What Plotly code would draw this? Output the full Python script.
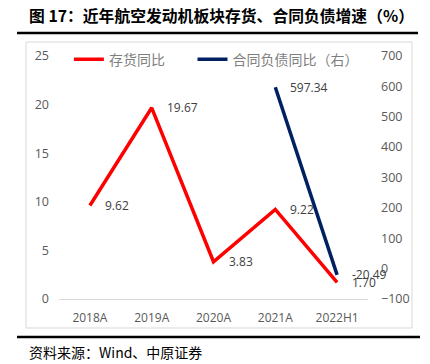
import plotly.graph_objects as go

categories = ["2018A", "2019A", "2020A", "2021A", "2022H1"]
inventory_yoy = [9.62, 19.67, 3.83, 9.22, 1.70]
contract_liab_yoy = [None, None, None, 597.34, -20.49]
left_ticks = [0, 5, 10, 15, 20, 25]
right_ticks = [-100, 0, 100, 200, 300, 400, 500, 600, 700]

NUM_FONT = "Open Sans"
CJK_FONT = "Noto Sans CJK SC"
GRAY = "#595959"

fig = go.Figure()
fig.add_trace(go.Scatter(
    x=categories, y=inventory_yoy, name="存货同比", mode="lines",
    line=dict(color="#FF0000", width=3.5), yaxis="y", legend="legend"))
fig.add_trace(go.Scatter(
    x=categories, y=contract_liab_yoy, name="合同负债同比（右）", mode="lines",
    line=dict(color="#002060", width=3.5), yaxis="y2", legend="legend2"))

annotations = []
for c, v in zip(categories, inventory_yoy):
    annotations.append(dict(x=c, y=v, xref="x", yref="y", text=f"{v:.2f}",
                            showarrow=False, xanchor="left", xshift=13,
                            font=dict(family=NUM_FONT, size=12, color="#404040")))
for c, v in zip(categories, contract_liab_yoy):
    if v is None:
        continue
    annotations.append(dict(x=c, y=v, xref="x", yref="y2", text=f"{v:.2f}",
                            showarrow=False, xanchor="left", xshift=13,
                            font=dict(family=NUM_FONT, size=12, color="#404040")))

annotations.append(dict(
    x=-0.103, y=1.165, xref="paper", yref="paper", xanchor="left", yanchor="middle",
    text="<b>图 17：近年航空发动机板块存货、合同负债增速（%）</b>", showarrow=False,
    font=dict(family=CJK_FONT, size=15.8, color="#000000")))
annotations.append(dict(
    x=-0.103, y=-0.218, xref="paper", yref="paper", xanchor="left", yanchor="middle",
    text="资料来源：Wind、中原证券", showarrow=False,
    font=dict(family=CJK_FONT, size=14, color="#000000")))

shapes = [
    dict(type="rect", xref="paper", yref="paper", x0=-0.1068, x1=1.1424, y0=-0.1193, y1=1.0576,
         line=dict(color="#d9d9d9", width=1), fillcolor="rgba(0,0,0,0)", layer="below"),
    dict(type="line", xref="paper", yref="paper", x0=-0.1359, x1=1.1618, y0=1.0947, y1=1.0947,
         line=dict(color="#000000", width=2.5)),
    dict(type="line", xref="paper", yref="paper", x0=-0.1359, x1=1.1683, y0=-0.1564, y1=-0.1564,
         line=dict(color="#000000", width=2.5)),
]

legend_font = dict(family=CJK_FONT, size=14, color="#7f7f7f")
fig.update_layout(
    width=430, height=364,
    margin=dict(l=59, r=62, t=56, b=65),
    paper_bgcolor="white", plot_bgcolor="white",
    showlegend=True,
    legend=dict(orientation="h", x=0.032, y=0.985, xanchor="left", yanchor="middle",
                font=legend_font, bgcolor="rgba(0,0,0,0)"),
    legend2=dict(orientation="h", x=0.432, y=0.985, xanchor="left", yanchor="middle",
                 font=legend_font, bgcolor="rgba(0,0,0,0)"),
    xaxis=dict(type="category", range=[-0.5, 4.5], showgrid=False, showline=True,
               linecolor="#d9d9d9", linewidth=1, ticks="", ticklabelstandoff=8,
               tickfont=dict(family=NUM_FONT, size=12, color=GRAY), zeroline=False),
    yaxis=dict(range=[0, 25], tickvals=left_ticks, showgrid=False, zeroline=False,
               ticks="", ticklabelstandoff=9, tickfont=dict(family=NUM_FONT, size=12.5, color=GRAY)),
    yaxis2=dict(range=[-100, 700], tickvals=right_ticks, overlaying="y", side="right",
                showgrid=False, zeroline=False, ticks="", ticklabelstandoff=12,
                tickfont=dict(family=NUM_FONT, size=12.5, color=GRAY)),
    annotations=annotations,
    shapes=shapes,
)

fig.write_html("out.html", config={"displayModeBar": False},
               post_script="document.body.style.margin='0';document.body.style.overflow='hidden';")
